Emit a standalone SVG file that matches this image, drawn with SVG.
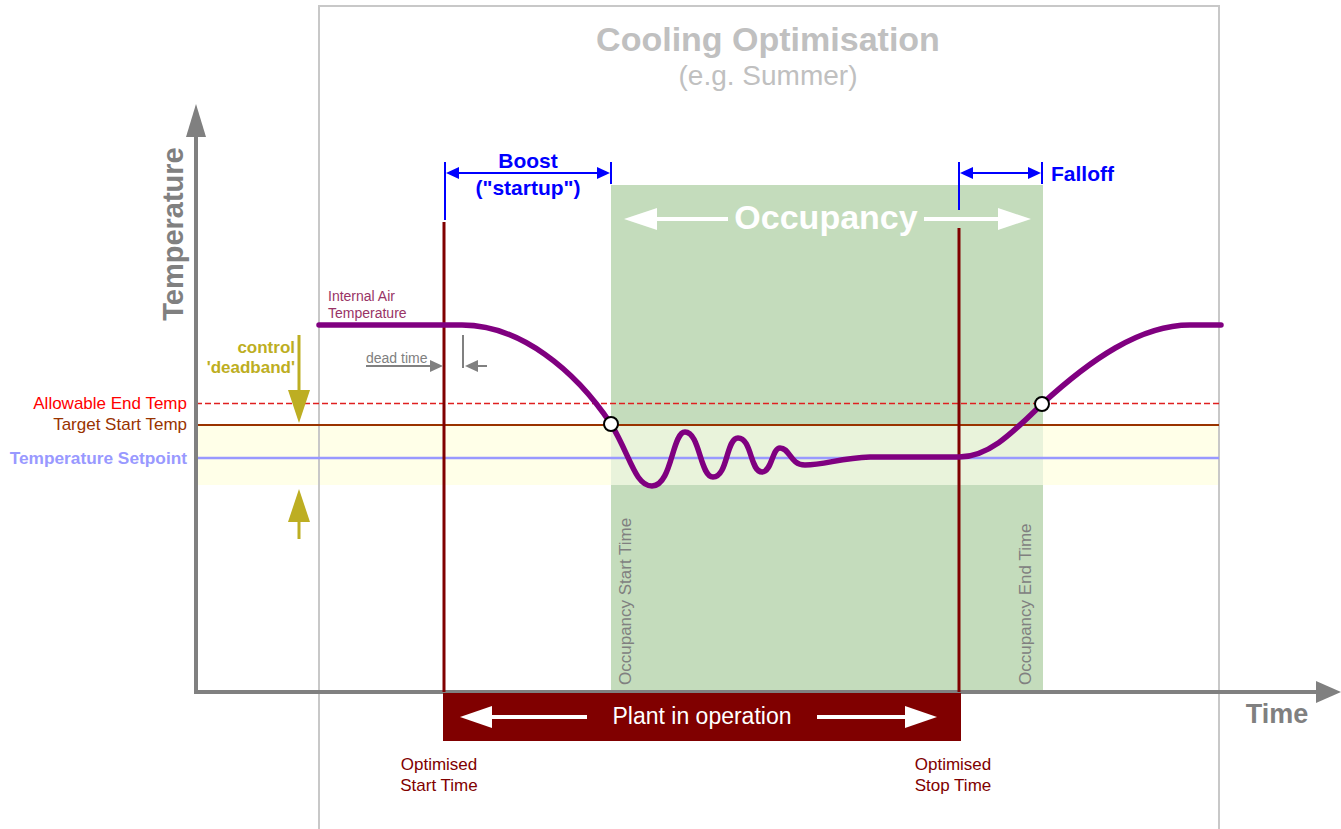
<svg xmlns="http://www.w3.org/2000/svg" width="1341" height="829" viewBox="0 0 1341 829">
<style>
text{font-family:"Liberation Sans",Arial,sans-serif}
.b{font-weight:bold}
.axis{stroke:#808080;stroke-width:4;fill:none}
.dr{stroke:#800000;stroke-width:3;fill:none}
.blue{stroke:#0000ff;stroke-width:2;fill:none}
.bt{fill:#0000ff;font-weight:bold;font-size:21px}
.olive{fill:#bdae22}
.gray{fill:#808080}
.wh{fill:#ffffff}
.circ{fill:#ffffff;stroke:#000000;stroke-width:2}
</style>
<rect width="1341" height="829" fill="#ffffff"/>
<g id="background">
<rect x="196" y="425" width="1023" height="60" fill="#ffffe8"/>
<rect x="611" y="185" width="432" height="507" fill="#c4dcbc"/>
<rect x="611" y="425" width="432" height="60" fill="#e9f3db"/>
<path d="M319,829 L319,6 L1219,6 L1219,829" fill="none" stroke="#c8c8c8" stroke-width="2"/>
</g>
<g id="title">
<text x="768" y="51" text-anchor="middle" class="b" font-size="34" fill="#c0c0c0">Cooling Optimisation</text>
<text x="768" y="85" text-anchor="middle" font-size="28" fill="#c0c0c0">(e.g. Summer)</text>
</g>
<g id="levels">
<line x1="196" y1="403.5" x2="1219" y2="403.5" stroke="#e02020" stroke-width="1.3" stroke-dasharray="6,3"/>
<line x1="196" y1="425" x2="1219" y2="425" stroke="#993300" stroke-width="2"/>
<line x1="196" y1="458" x2="1219" y2="458" stroke="#9999ff" stroke-width="2.5"/>
<text x="187" y="409" text-anchor="end" font-size="17" fill="#ff0000">Allowable End Temp</text>
<text x="187" y="430" text-anchor="end" font-size="17" fill="#993300">Target Start Temp</text>
<text x="187" y="464" text-anchor="end" font-size="17.3" class="b" fill="#9999ff">Temperature Setpoint</text>
</g>
<g id="axes">
<line x1="196" y1="135" x2="196" y2="692" class="axis"/>
<polygon points="196,104 186,137 206,137" fill="#808080"/>
<line x1="194" y1="692" x2="1318" y2="692" class="axis"/>
<polygon points="1341,692 1316,681 1316,703" fill="#808080"/>
<text transform="translate(183,234) rotate(-90)" text-anchor="middle" class="b" font-size="29" fill="#808080">Temperature</text>
<text x="1277" y="723" text-anchor="middle" class="b" font-size="27" fill="#808080">Time</text>
</g>
<g id="occupancy">
<text x="826" y="229" text-anchor="middle" class="b wh" font-size="34">Occupancy</text>
<line x1="650" y1="219" x2="728" y2="219" stroke="#ffffff" stroke-width="4"/>
<polygon points="624,219 657,208 657,230" fill="#ffffff"/>
<line x1="924" y1="219" x2="1002" y2="219" stroke="#ffffff" stroke-width="4"/>
<polygon points="1031,219 998,208 998,230" fill="#ffffff"/>
<text transform="translate(631,685) rotate(-90)" font-size="17" fill="#808080">Occupancy Start Time</text>
<text transform="translate(1031,685) rotate(-90)" font-size="17" fill="#808080">Occupancy End Time</text>
</g>
<g id="plant-lines">
<line x1="444" y1="222" x2="444" y2="692" class="dr"/>
<line x1="959" y1="228" x2="959" y2="692" class="dr"/>
</g>
<g id="plant">
<rect x="443" y="693" width="518" height="48" fill="#800000"/>
<text x="702" y="724" text-anchor="middle" font-size="23" fill="#ffffff">Plant in operation</text>
<line x1="488" y1="717" x2="587" y2="717" stroke="#ffffff" stroke-width="4"/>
<polygon points="460,717 492,706 492,728" fill="#ffffff"/>
<line x1="817" y1="717" x2="909" y2="717" stroke="#ffffff" stroke-width="4"/>
<polygon points="937,717 905,706 905,728" fill="#ffffff"/>
<text x="439" y="770" text-anchor="middle" font-size="17" fill="#800000">Optimised</text>
<text x="439" y="791" text-anchor="middle" font-size="17" fill="#800000">Start Time</text>
<text x="953" y="770" text-anchor="middle" font-size="17" fill="#800000">Optimised</text>
<text x="953" y="791" text-anchor="middle" font-size="17" fill="#800000">Stop Time</text>
</g>
<g id="boost">
<line x1="445" y1="162" x2="445" y2="220" class="blue"/>
<line x1="611" y1="162" x2="611" y2="184" class="blue"/>
<line x1="455" y1="173" x2="601" y2="173" class="blue"/>
<polygon points="446,173 459,167 459,179" fill="#0000ff"/>
<polygon points="610,173 597,167 597,179" fill="#0000ff"/>
<text x="528" y="168" text-anchor="middle" class="bt">Boost</text>
<text x="528" y="195" text-anchor="middle" class="bt">("startup")</text>
</g>
<g id="falloff">
<line x1="959" y1="162" x2="959" y2="210" class="blue"/>
<line x1="1042" y1="162" x2="1042" y2="184" class="blue"/>
<line x1="969" y1="173" x2="1032" y2="173" class="blue"/>
<polygon points="960,173 973,167 973,179" fill="#0000ff"/>
<polygon points="1041,173 1028,167 1028,179" fill="#0000ff"/>
<text x="1051" y="181" class="bt">Falloff</text>
</g>
<g id="deadband">
<text x="295" y="353" text-anchor="end" class="b olive" font-size="17">control</text>
<text x="295" y="373" text-anchor="end" class="b olive" font-size="17">'deadband'</text>
<line x1="299" y1="335" x2="299" y2="395" stroke="#bdae22" stroke-width="3"/>
<polygon points="299,423 288,390 310,390" fill="#bdae22"/>
<line x1="299" y1="518" x2="299" y2="539" stroke="#bdae22" stroke-width="3"/>
<polygon points="299,489 288,522 310,522" fill="#bdae22"/>
</g>
<g id="deadtime">
<text x="366" y="363" font-size="14" fill="#808080">dead time</text>
<line x1="366" y1="366" x2="432" y2="366" stroke="#808080" stroke-width="2"/>
<polygon points="443,366 430,360 430,372" fill="#808080"/>
<line x1="463" y1="335" x2="463" y2="368" stroke="#808080" stroke-width="2"/>
<line x1="475" y1="366" x2="487" y2="366" stroke="#808080" stroke-width="2"/>
<polygon points="465,366 478,360 478,372" fill="#808080"/>
</g>
<g id="air-temp">
<text x="328" y="301" font-size="14" fill="#993366">Internal Air</text>
<text x="328" y="318" font-size="14" fill="#993366">Temperature</text>
<path d="M319,325 L462,325 C520,325 575,370 611,424 C630,455 635,486 652,486 C672,486 672,432 685,432 C700,432 700,477 713,477 C728,477 726,438 738,438 C752,438 750,472 762,472 C772,472 772,448 780,448 C790,448 790,465 805,465 C825,465 840,458 870,457 L959,457 C990,457 1015,430 1042,404 C1090,360 1140,325 1190,325 L1221,325" fill="none" stroke="#800080" stroke-width="5.5" stroke-linecap="round" stroke-linejoin="round"/>
<circle cx="611" cy="424" r="7" class="circ"/>
<circle cx="1042" cy="404" r="7" class="circ"/>
</g>
</svg>
